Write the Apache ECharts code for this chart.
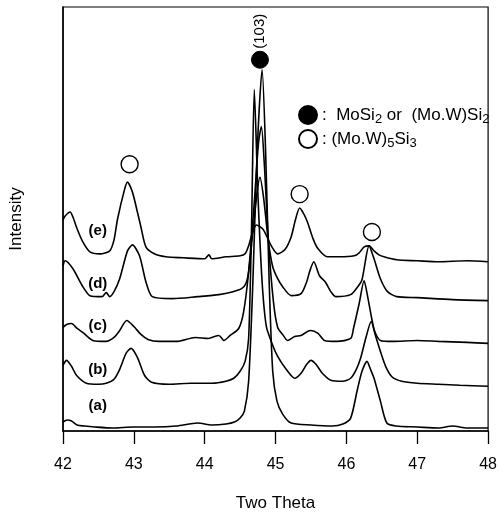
<!DOCTYPE html>
<html>
<head>
<meta charset="utf-8">
<title>XRD patterns</title>
<script src="https://cdn.jsdelivr.net/npm/echarts@6/dist/echarts.min.js"></script>
<style>
  html, body { margin: 0; padding: 0; background: #fff; }
  #xrd { width: 500px; height: 517px; }
</style>
</head>
<body>
<div id="xrd"></div>
<script>
// curves: [two theta, intensity (offset already included)]
var curveA = [[42.0, 9], [42.06, 11], [42.12, 10], [42.2, 6], [42.3, 5], [42.45, 4], [42.7, 3], [43.0, 4], [43.3, 4], [43.6, 5], [43.9, 8], [44.1, 6], [44.3, 7], [44.42, 9], [44.5, 13], [44.56, 20], [44.62, 50], [44.68, 150], [44.74, 280], [44.81, 363], [44.86, 280], [44.91, 150], [44.96, 60], [45.02, 30], [45.1, 17], [45.22, 8], [45.5, 6], [45.8, 5], [45.95, 7], [46.06, 13], [46.15, 40], [46.22, 60], [46.29, 70], [46.34, 62], [46.39, 53], [46.48, 30], [46.57, 8], [46.7, 5], [47.0, 4], [47.3, 3], [47.5, 5], [47.7, 3], [48.0, 3]];
var curveB = [[42.0, 66], [42.05, 71], [42.12, 65], [42.19, 56], [42.33, 48], [42.5, 47], [42.61, 48], [42.72, 52], [42.8, 62], [42.89, 78], [42.96, 83], [43.05, 74], [43.15, 56], [43.25, 49], [43.5, 47], [43.8, 48], [44.1, 48], [44.3, 50], [44.41, 53], [44.5, 60], [44.57, 70], [44.62, 93], [44.66, 200], [44.70, 343], [44.75, 240], [44.81, 150], [44.87, 105], [44.95, 88], [45.03, 75], [45.15, 62], [45.27, 53], [45.36, 58], [45.44, 67], [45.5, 71], [45.57, 67], [45.66, 58], [45.78, 51], [45.95, 50], [46.06, 53], [46.14, 62], [46.2, 73], [46.28, 95], [46.35, 110], [46.41, 96], [46.48, 80], [46.56, 64], [46.65, 54], [46.78, 50], [47.0, 48], [47.3, 47], [47.6, 46], [48.0, 45]];
var curveC = [[42.0, 104], [42.05, 107], [42.12, 108], [42.2, 103], [42.28, 99], [42.42, 91], [42.61, 90], [42.72, 94], [42.8, 101], [42.9, 111], [43.0, 105], [43.1, 97], [43.2, 92], [43.35, 90], [43.6, 90], [43.87, 94], [44.05, 93], [44.2, 96], [44.27, 91], [44.36, 96], [44.48, 103], [44.55, 120], [44.62, 160], [44.7, 230], [44.76, 290], [44.8, 306], [44.84, 270], [44.9, 190], [44.97, 130], [45.03, 104], [45.1, 97], [45.17, 91], [45.27, 95], [45.36, 96], [45.45, 100], [45.5, 101], [45.6, 98], [45.69, 91], [45.87, 90], [46.06, 93], [46.1, 103], [46.18, 128], [46.25, 151], [46.3, 135], [46.36, 112], [46.4, 100], [46.48, 91], [46.65, 90], [47.0, 91], [47.3, 90], [47.7, 89], [48.0, 88]];
var curveD = [[42.0, 166], [42.03, 171], [42.14, 163], [42.28, 145], [42.38, 136], [42.55, 135], [42.61, 139], [42.66, 135], [42.72, 140], [42.8, 153], [42.91, 181], [42.98, 187], [43.08, 176], [43.17, 150], [43.26, 135], [43.54, 133], [43.9, 135], [44.2, 137], [44.4, 140], [44.52, 143], [44.58, 148], [44.62, 160], [44.68, 200], [44.74, 240], [44.78, 255], [44.83, 235], [44.9, 190], [44.96, 165], [45.03, 153], [45.1, 145], [45.22, 136], [45.36, 138], [45.44, 150], [45.48, 160], [45.54, 170], [45.62, 156], [45.7, 150], [45.78, 140], [45.85, 135], [46.06, 137], [46.16, 145], [46.22, 152], [46.32, 186], [46.39, 173], [46.48, 153], [46.58, 140], [46.71, 135], [47.0, 134], [47.5, 132], [48.0, 131]];
var curveE = [[42.0, 212], [42.03, 216], [42.1, 220], [42.14, 215], [42.2, 203], [42.28, 190], [42.38, 180], [42.52, 178], [42.66, 181], [42.72, 192], [42.77, 213], [42.87, 243], [42.91, 250], [42.98, 240], [43.05, 220], [43.1, 205], [43.17, 185], [43.29, 178], [43.45, 175], [43.7, 174], [44.0, 173], [44.06, 177], [44.1, 173], [44.3, 175], [44.5, 176], [44.57, 178], [44.62, 186], [44.66, 196], [44.73, 207], [44.82, 203], [44.88, 195], [44.94, 186], [45.03, 178], [45.13, 182], [45.22, 195], [45.28, 212], [45.34, 224], [45.4, 218], [45.45, 210], [45.53, 193], [45.6, 183], [45.73, 175], [45.9, 175], [46.11, 176], [46.18, 179], [46.25, 185], [46.32, 186], [46.39, 181], [46.46, 177], [46.53, 175], [46.71, 172], [47.0, 171], [47.3, 170], [47.7, 171], [48.0, 170]];

var curveNames = ['(a)', '(b)', '(c)', '(d)', '(e)'];
// where the (a)..(e) tags sit
var tagPoints = [[42.49, 25], [42.49, 61], [42.49, 106], [42.49, 148], [42.49, 201]];

// peak markers
var mosi2Peaks = [[44.78, 373]];
var mow5si3Peaks = [[42.94, 268], [45.34, 238], [46.36, 200]];

var xTicks = [42, 43, 44, 45, 46, 47, 48];

var font = 'Liberation Sans, Arial, sans-serif';
var myChart = echarts.init(document.getElementById('xrd'));

var series = [];
[curveA, curveB, curveC, curveD, curveE].forEach(function (c, i) {
    series.push({
        name: curveNames[i],
        type: 'line',
        data: c,
        showSymbol: false,
        smooth: 0.25,
        lineStyle: { color: '#000', width: 1.6 },
        z: 2
    });
});

// (a)..(e)
series.push({
    name: 'tags',
    type: 'scatter',
    symbolSize: 0,
    data: tagPoints.map(function (p, i) { return { value: p, name: curveNames[i] }; }),
    itemStyle: { opacity: 1 },
    label: {
        show: true,
        position: 'inside',
        formatter: '{b}',
        color: '#000',
        opacity: 1,
        fontSize: 15,
        fontWeight: 'bold',
        fontFamily: font
    },
    silent: true,
    z: 4
});

series.push({
    name: 'MoSi2',
    type: 'scatter',
    symbol: 'circle',
    symbolSize: 17,
    data: mosi2Peaks,
    itemStyle: { color: '#000', borderColor: '#000', borderWidth: 1, opacity: 1 },
    label: {
        show: true,
        position: 'top',
        distance: 2,
        rotate: 90,
        align: 'left',
        verticalAlign: 'middle',
        formatter: '(103)',
        color: '#000',
        fontSize: 15,
        fontFamily: font
    },
    z: 5
});

series.push({
    name: 'MoW5Si3',
    type: 'scatter',
    symbol: 'circle',
    symbolSize: 17,
    data: mow5si3Peaks,
    itemStyle: { color: '#fff', borderColor: '#000', borderWidth: 1.4, opacity: 1 },
    z: 5
});

var legendText = {
    'MoSi2': '{t|:  MoSi}{s|2}{t| or  (Mo.W)Si}{s|2}',
    'MoW5Si3': '{t|: (Mo.W)}{s|5}{t|Si}{s|3}'
};

myChart.setOption({
    animation: false,
    backgroundColor: '#fff',
    grid: {
        left: 63,
        right: 8,
        top: 7,
        bottom: 84,
        show: true,
        borderColor: '#000',
        borderWidth: 1.2
    },
    legend: {
        data: ['MoSi2', 'MoW5Si3'],
        orient: 'vertical',
        left: 293,
        top: 100,
        itemWidth: 18,
        itemHeight: 18,
        itemGap: 3,
        selectedMode: false,
        formatter: function (name) { return legendText[name]; },
        textStyle: {
            rich: {
                t: { fontSize: 17, color: '#000', fontFamily: font, lineHeight: 22 },
                s: { fontSize: 13, color: '#000', fontFamily: font, lineHeight: 12, verticalAlign: 'bottom' }
            }
        }
    },
    xAxis: {
        type: 'value',
        min: 42,
        max: 48,
        interval: 1,
        name: 'Two Theta',
        nameLocation: 'middle',
        nameGap: 64,
        nameTextStyle: { fontSize: 17, color: '#000', fontFamily: font },
        axisLine: { lineStyle: { color: '#000', width: 1.5 } },
        axisTick: { show: true, inside: false, length: 13, lineStyle: { color: '#000', width: 1.3 } },
        axisLabel: {
            fontSize: 16,
            color: '#000',
            fontFamily: font,
            margin: 26,
            customValues: xTicks
        },
        splitLine: { show: false }
    },
    yAxis: {
        type: 'value',
        min: 0,
        max: 426,
        name: 'Intensity',
        nameLocation: 'middle',
        nameGap: 38,
        nameTextStyle: { fontSize: 17, color: '#000', fontFamily: font },
        axisLine: { show: true, lineStyle: { color: '#000', width: 1.5 } },
        axisTick: { show: false },
        axisLabel: { show: false },
        splitLine: { show: false }
    },
    series: series
});
</script>
</body>
</html>
